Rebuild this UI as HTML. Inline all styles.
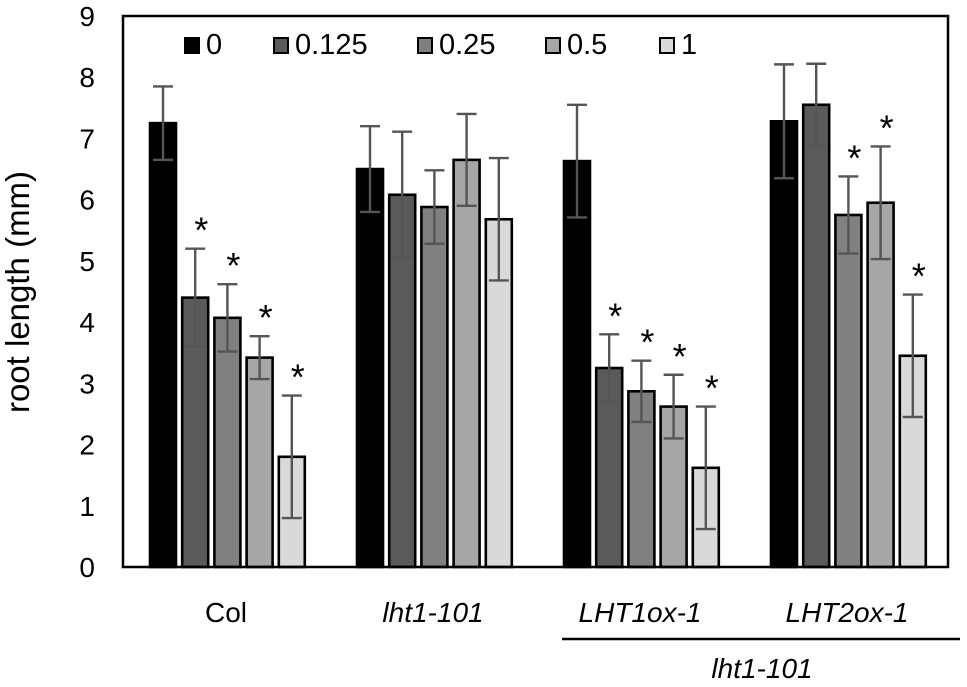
<!DOCTYPE html>
<html><head><meta charset="utf-8"><style>
html,body{margin:0;padding:0;background:#fff;}
svg{display:block;font-family:"Liberation Sans",Arial,sans-serif;}
</style></head><body>
<svg id="chart" width="967" height="687" viewBox="0 0 967 687">
</svg>
<script>
const categories = ["Col","lht1-101","LHT1ox-1","LHT2ox-1"];
const seriesNames = ["0","0.125","0.25","0.5","1"];
const values = [
  [7.25,4.4,4.07,3.42,1.8],
  [6.5,6.08,5.88,6.65,5.68],
  [6.63,3.25,2.87,2.62,1.62],
  [7.28,7.55,5.75,5.95,3.45]
];
const errors = [
  [0.6,0.8,0.55,0.35,1.0],
  [0.7,1.03,0.6,0.75,1.0],
  [0.92,0.55,0.5,0.52,1.0],
  [0.93,0.67,0.63,0.92,1.0]
];
const significant = [
  [false,true,true,true,true],
  [false,false,false,false,false],
  [false,true,true,true,true],
  [false,false,true,true,true]
];
const yTicks = [0,1,2,3,4,5,6,7,8,9];
const colors = ["#000000","#5a5a5a","#808080","#a6a6a6","#d9d9d9"];

const NS="http://www.w3.org/2000/svg";
const svg=document.getElementById('chart');
const L=123,R=948,T=16,B=567,yMax=9;
const y=v=>B-(v/yMax)*(B-T);
const groupStart=i=>150+i*207;
const barX=(g,s)=>groupStart(g)+s*32.2;
const BW=26;
function mk(tag,attrs){const e=document.createElementNS(NS,tag);for(const k in attrs)e.setAttribute(k,attrs[k]);svg.appendChild(e);return e;}

yTicks.forEach(t=>{
  const e=mk('text',{x:95,y:y(t)+10,'text-anchor':'end','font-size':28,fill:'#000'});
  e.textContent=t;
  
  
});
const yt=mk('text',{x:0,y:0,transform:'translate(29,292) rotate(-90)','text-anchor':'middle','font-size':33,fill:'#000'});
yt.textContent='root length (mm)';



values.forEach((row,g)=>{
  row.forEach((v,s)=>{
    const x=barX(g,s);
    const r=mk('rect',{x:x,y:y(v),width:BW,height:B-y(v),fill:colors[s],stroke:'#000','stroke-width':2.6});
    
    
    const cx=x+BW/2,e=errors[g][s];
    const eb=mk('path',{d:`M${cx},${y(v+e)}V${y(v-e)}M${cx-10},${y(v+e)}H${cx+10}M${cx-10},${y(v-e)}H${cx+10}`,stroke:'#555','stroke-width':2.4,fill:'none'});
    
    
    if(significant[g][s]){
      const st=mk('text',{x:cx+6,y:y(v+e)-6,'text-anchor':'middle','font-size':36,fill:'#000'});
      st.textContent='*';
      
      
    }
  });
  const cl=mk('text',{x:groupStart(g)+76,y:622,'text-anchor':'middle','font-size':28,fill:'#000','font-style':g===0?'normal':'italic'});
  cl.textContent=categories[g];
  
  
});

const fr=mk('rect',{x:L,y:T,width:R-L,height:B-T,fill:'none',stroke:'#000','stroke-width':2.5});



const legX=[185,274,418,546,660];
seriesNames.forEach((n,i)=>{
  const r=mk('rect',{x:legX[i],y:38,width:14,height:15,fill:colors[i],stroke:'#000','stroke-width':2});
  
  
  const t=mk('text',{x:legX[i]+21,y:54,'font-size':29,fill:'#000'});
  t.textContent=n;
  
  
});

const ln=mk('line',{x1:562,y1:639,x2:960,y2:639,stroke:'#000','stroke-width':2.5});


const gl=mk('text',{x:762,y:678,'text-anchor':'middle','font-size':28,'font-style':'italic',fill:'#000'});
gl.textContent='lht1-101';


</script>
</body></html>
